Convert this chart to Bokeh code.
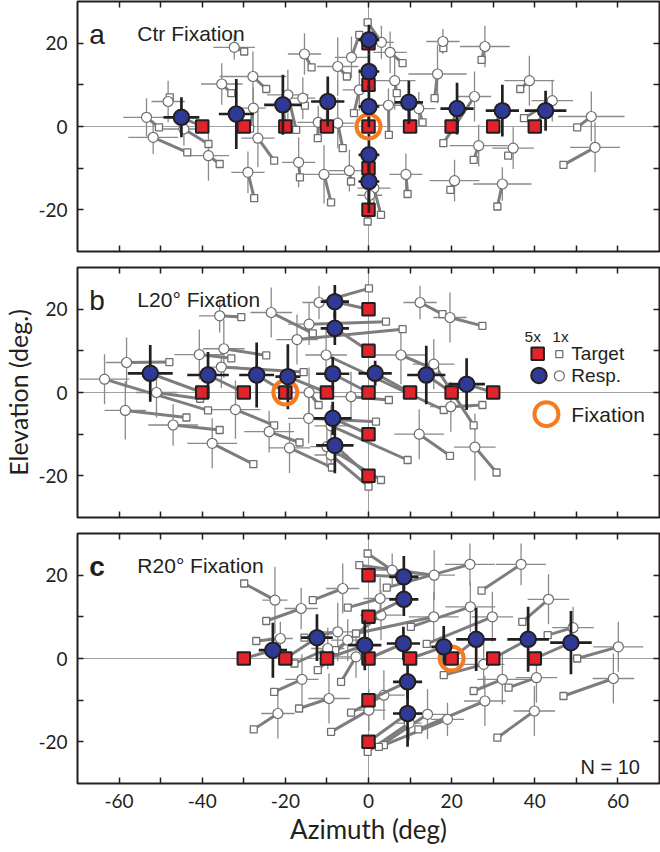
import numpy as np
from bokeh.plotting import figure
from bokeh.layouts import column
from bokeh.models import Range1d, FixedTicker, LinearAxis, Span, Label
from bokeh.embed import file_html
from bokeh.resources import INLINE

# ---------------- data ----------------
X_TICKS = [-60, -50, -40, -30, -20, -10, 0, 10, 20, 30, 40, 50, 60]
X_TICK_LABELS = ["-60", "", "-40", "", "-20", "", "0", "", "20", "", "40", "", "60"]
Y_TICKS = [-20, -10, 0, 10, 20]
Y_TICK_LABELS = ["-20", "", "0", "", "20"]

PANEL_LETTERS = ["a", "b", "c"]
PANEL_TITLES = ["Ctr Fixation", "L20\u00b0 Fixation", "R20\u00b0 Fixation"]
FIX_X = [0, -20, 20]
FIX_Y = [0, 0, 0]
N_SUBJECTS = 10

# panel a (centre fixation) : 5x targets / responses
T5X_a = [-40, -30, -20, -10, 0, 10, 20, 30, 40, 0, 0, 0, 0]
T5Y_a = [0, 0, 0, 0, 0, 0, 0, 0, 0, 20, 10, -10, -20]
R5X_a = [-45.0, -31.8, -20.6, -9.8, 0.1, 9.7, 21.3, 32.2, 42.6, 0.1, 0.1, 0.1, 0.1]
R5Y_a = [2.2, 3.0, 5.2, 6.0, 4.8, 5.8, 4.3, 3.8, 3.8, 20.8, 13.2, -6.8, -13.2]
R5SX_a = [4.3, 4.2, 4.5, 4.0, 2.5, 3.4, 4.0, 4.0, 5.0, 2.5, 2.5, 2.5, 2.5]
R5SY_a = [4.8, 8.4, 7.2, 6.0, 5.0, 5.2, 6.2, 6.2, 4.8, 3.6, 4.0, 5.0, 7.5]
# panel a : 1x targets / responses
T1X_a = [-50.4, -43.6, -47.8, -38.5, -35.8, -33.0, -29.9, -27.5, -24.6, -22.7, -17.4, -16.5, -15.3, -13.7,
         -9.0, -12.2, -5.2, -2.2, 8.2, 6.8, -3.5, -6.2, 4.9, 13.0, -4.2, 3.0, 9.4, 15.9, 18.0, 19.7, 27.2,
         18.0, 25.3, 37.4, 33.6, 36.5, 50.2, 46.9, 31.0, -0.2, -0.2, -28.5]
T1Y_a = [-0.2, -6.2, 7.0, -4.2, -9.0, 8.0, 18.0, -17.2, 9.0, -8.2, -0.8, -12.2, 5.0, 14.2,
         -18.2, -2.8, 12.0, 22.0, 15.2, 8.0, 3.2, -5.2, -2.0, 1.0, -13.2, -21.2, -16.2, 6.8, 18.8, -15.2, 16.0,
         -4.0, -8.0, 2.0, -7.0, 9.0, -0.2, -9.2, -19.2, 25.0, -22.8, -0.5]
R1X_a = [-53.4, -51.8, -48.2, -44.4, -38.5, -35.3, -32.3, -29.0, -27.8, -26.6, -19.4, -16.8, -15.8, -15.4,
         -10.7, -12.1, -7.4, -4.1, 5.2, 6.3, -2.2, -7.4, 4.8, 12.1, -4.6, 1.3, 9.0, 16.6, 17.9, 20.7, 28.0,
         25.5, 26.5, 44.2, 34.8, 38.7, 53.6, 54.5, 32.2, 3.1, 0.3, -27.7]
R1Y_a = [2.2, -2.6, 6.0, -0.6, -7.0, 10.2, 19.0, -11.0, 12.0, -2.8, 7.6, -8.6, 6.8, 17.4,
         -11.5, 1.0, 14.4, 16.6, 17.8, 11.0, 8.8, 0.8, 5.1, 4.3, -10.6, -14.8, -11.5, 12.6, 20.4, -13.0, 19.2,
         7.2, -4.6, 6.2, -5.2, 11.0, 2.4, -5.0, -13.8, 20.2, -16.5, 4.4]
R1SX_a = [5.6, 6, 4, 5, 5, 5, 5, 4, 8, 4, 5, 4, 3, 4,
          5, 5, 5, 4, 4, 5, 4, 4, 4, 4, 5, 4, 4, 7, 4, 6, 6,
          4, 7, 5, 5, 6, 8, 6, 7, 3, 3, 3]
R1SY_a = [4.6, 4, 5, 4, 6, 5, 3, 5, 6, 7, 6, 6, 5, 5,
          7, 4, 7, 5, 5, 7, 5, 6, 4, 4, 5, 5, 5, 7, 3, 5, 5,
          6, 5, 5, 5, 6, 6, 6, 4, 4, 4, 5]

# panel b (left 20 deg fixation)
T5X_b = [-40, -30, -20, -10, 0, 10, 20, 30, 0, 0, 0, 0]
T5Y_b = [0, 0, 0, 0, 0, 0, 0, 0, 20, 10, -10, -20]
R5X_b = [-52.5, -38.6, -26.9, -19.4, -8.6, 1.6, 13.9, 23.6, -8.1, -8.1, -8.6, -8.1]
R5Y_b = [4.6, 4.2, 4.2, 3.8, 4.5, 4.6, 4.2, 2.0, 21.8, 15.4, -6.2, -12.7]
R5SX_b = [5.4, 5.0, 4.2, 3.0, 4.0, 4.0, 4.6, 4.4, 3.4, 3.4, 4.5, 4.5]
R5SY_b = [6.8, 5.5, 7.8, 7.8, 4.0, 3.0, 7.0, 6.2, 4.0, 4.0, 4.0, 6.7]
T1X_b = [-38.6, -47.9, -43.8, -40.5, -35.8, -27.7, -30.6, -33.0, -24.6, -15.6, -13.4, 8.2, -22.7, -16.6,
         -8.8, -12.0, 1.8, 4.2, 0.1, 4.9, 16.0, 25.3, 17.8, 27.4, 27.4, 19.6, 30.8, 9.4, 3.0, 0.0, 18.1]
T1Y_b = [-4.3, 7.3, -6.0, -1.5, -9.0, -17.2, 18.1, 8.2, 8.9, 4.9, 14.2, 15.2, -7.9, -12.0,
         -18.0, -3.0, -7.0, 17.0, 25.0, -1.8, 5.5, -7.9, 18.8, 16.0, -3.0, -15.2, -19.2, -16.2, -21.0, -22.6, -4.2]
R1X_b = [-63.5, -58.2, -58.5, -51.0, -47.0, -37.6, -35.8, -40.7, -34.8, -35.4, -23.4, -17.2, -32.0, -23.9,
         -19.0, -14.3, -14.4, -14.3, -11.9, -4.2, 7.8, 15.7, 12.4, 19.6, 19.8, 12.2, 25.6, -9.0, -10.0, -9.0, -10.2]
R1Y_b = [3.2, 7.2, -4.3, 0.0, -7.8, -12.2, 18.4, 9.1, 10.5, 6.1, 19.2, 12.7, -4.1, -9.4,
         -13.3, 0.0, -6.2, 16.4, 21.6, -1.0, 9.0, 6.8, 21.6, 18.0, -3.4, -10.0, -13.1, -8.0, -13.0, -15.0, 9.0]
R1SX_b = [6, 5, 5, 5, 6, 6, 5, 6, 5, 4, 5, 5, 6, 6,
          5, 5, 5, 5, 4, 5, 6, 5, 4, 4, 5, 6, 5, 4, 4, 4, 5]
R1SY_b = [6, 6, 7, 6, 5, 6, 4, 6, 7, 5, 6, 6, 7, 5,
          6, 6, 6, 5, 4, 6, 7, 6, 4, 6, 6, 6, 8, 5, 5, 4, 6]

# panel c (right 20 deg fixation)
T5X_c = [-30, -20, -10, 0, 10, 20, 30, 40, 0, 0, 0, 0]
T5Y_c = [0, 0, 0, 0, 0, 0, 0, 0, 20, 10, -10, -20]
R5X_c = [-23.0, -12.4, -0.9, 8.4, 18.1, 25.9, 38.4, 48.7, 8.5, 8.5, 9.4, 9.4]
R5Y_c = [2.0, 5.0, 3.2, 3.6, 2.8, 4.6, 4.6, 3.8, 19.6, 14.2, -5.6, -13.2]
R5SX_c = [3.4, 3.8, 4.0, 4.0, 3.0, 4.8, 5.0, 5.0, 3.5, 3.5, 3.5, 3.5]
R5SY_c = [6.6, 5.6, 6.0, 4.0, 5.0, 7.6, 7.8, 7.6, 5.0, 4.0, 4.0, 8.0]
T1X_c = [-29.9, -24.6, -27.0, -22.7, -27.6, -16.7, -13.4, -15.4, -17.8, -12.2, -9.0, -6.6, -4.2, -5.0,
         -0.2, -2.2, 4.4, 27.2, 37.0, 43.1, 50.2, 46.9, 33.7, 25.3, 31.0, 3.7, 2.5, 18.1, 10.2, 14.0,
         -3.0, -8.0, 12.0, -0.2]
T1Y_c = [18.0, 9.0, 4.2, -8.0, -17.0, -12.0, 14.0, 5.0, -1.2, -2.8, -17.6, -5.6, -13.0, 12.2,
         25.2, 22.4, 17.0, 16.3, 8.8, 5.6, 0.0, -9.0, -7.0, -7.8, -19.0, -20.8, -21.2, -4.0, 7.6, 3.5,
         6.0, 2.0, -17.0, -22.4]
R1X_c = [-22.5, -16.2, -21.2, -16.0, -21.8, -9.5, -6.2, -7.4, -9.8, -5.0, 0.1, -3.0, 3.7, 2.8,
         5.7, 15.8, 24.4, 36.7, 43.3, 49.2, 60.1, 58.9, 40.4, 32.2, 39.9, 19.0, 14.2, 27.7, 24.5, 29.8,
         15.7, 3.0, 28.0, 9.8]
R1Y_c = [14.0, 12.0, 4.8, -5.0, -13.2, -9.6, 16.8, 6.4, 2.4, 4.4, -12.4, 0.4, -8.8, 14.4,
         21.2, 20.0, 22.6, 22.6, 14.2, 7.4, 2.8, -4.8, -4.6, -5.0, -12.6, -14.6, -13.4, -1.4, 12.4, 10.0,
         10.0, 10.4, -10.2, -15.5]
R1SX_c = [3, 4, 3, 4, 4, 5, 4, 5, 4, 4, 4, 5, 5, 4,
          4, 5, 6, 6, 5, 5, 6, 5, 5, 6, 5, 4, 5, 5, 6, 5,
          6, 5, 5, 3]
R1SY_c = [8, 5, 4, 6, 6, 6, 6, 7, 5, 5, 5, 5, 6, 5,
          4, 6, 5, 5, 6, 5, 6, 6, 6, 6, 6, 4, 6, 6, 6, 6,
          6, 6, 6, 4]

PANELS = [
    (T5X_a, T5Y_a, R5X_a, R5Y_a, R5SX_a, R5SY_a, T1X_a, T1Y_a, R1X_a, R1Y_a, R1SX_a, R1SY_a),
    (T5X_b, T5Y_b, R5X_b, R5Y_b, R5SX_b, R5SY_b, T1X_b, T1Y_b, R1X_b, R1Y_b, R1SX_b, R1SY_b),
    (T5X_c, T5Y_c, R5X_c, R5Y_c, R5SX_c, R5SY_c, T1X_c, T1Y_c, R1X_c, R1Y_c, R1SX_c, R1SY_c),
]

# ---------------- style ----------------
RED = "#e3232b"
BLUE = "#2e3a96"
DARK = "#231f20"
ORANGE = "#f47b20"
GRAY_LINE = "#7d7d7d"
GRAY_ERR = "#8a8a8a"
GRAY_MARK = "#6f6f6f"
TICK_FONT = "Lato"
TEXT_FONT = "Liberation Sans"

x_ticks_over = {t: s for t, s in zip(X_TICKS, X_TICK_LABELS)}
y_ticks_over = {t: s for t, s in zip(Y_TICKS, Y_TICK_LABELS)}


def style_axis(ax, ticks, overrides, show_labels):
    ax.ticker = FixedTicker(ticks=ticks)
    ax.major_label_overrides = overrides
    ax.axis_line_color = None
    ax.major_tick_in = 6
    ax.major_tick_out = 0
    ax.minor_tick_line_color = None
    ax.major_tick_line_color = DARK
    ax.major_tick_line_width = 1.5
    if show_labels:
        ax.major_label_text_font = TICK_FONT
        ax.major_label_text_font_size = "19px"
        ax.major_label_text_color = DARK
        ax.major_label_standoff = 10
    else:
        ax.major_label_text_font_size = "1px"
        ax.major_label_text_alpha = 0
        ax.major_label_standoff = 0


def make_panel(i, height, top, bottom, show_x, y_title=None):
    p = figure(width=668, height=height, output_backend="svg", toolbar_location=None,
               x_range=Range1d(-70, 70), y_range=Range1d(-30, 30),
               min_border_left=85, min_border_right=1, min_border_top=top, min_border_bottom=bottom,
               x_axis_location=None, y_axis_location=None)
    p.grid.visible = False
    p.outline_line_color = DARK
    p.outline_line_width = 2
    p.background_fill_color = "white"
    p.border_fill_color = "white"

    bx = LinearAxis()
    style_axis(bx, X_TICKS, x_ticks_over, show_x)
    if show_x:
        bx.axis_label = "Azimuth (deg)"
        bx.axis_label_text_font = TICK_FONT
        bx.axis_label_text_font_size = "26px"
        bx.axis_label_text_font_style = "normal"
        bx.axis_label_text_color = DARK
        bx.axis_label_standoff = 2
    p.add_layout(bx, "below")
    tx = LinearAxis()
    style_axis(tx, X_TICKS, x_ticks_over, False)
    p.add_layout(tx, "above")
    ly = LinearAxis()
    style_axis(ly, Y_TICKS, y_ticks_over, True)
    if y_title:
        ly.axis_label = y_title
        ly.axis_label_text_font = TICK_FONT
        ly.axis_label_text_font_size = "25px"
        ly.axis_label_text_font_style = "normal"
        ly.axis_label_text_color = DARK
        ly.axis_label_standoff = 2
    p.add_layout(ly, "left")
    ry = LinearAxis()
    style_axis(ry, Y_TICKS, y_ticks_over, False)
    p.add_layout(ry, "right")

    p.add_layout(Span(location=0, dimension="width", line_color="#a0a0a0", line_width=1, level="underlay"))
    p.add_layout(Span(location=0, dimension="height", line_color="#a0a0a0", line_width=1, level="underlay"))

    t5x, t5y, r5x, r5y, r5sx, r5sy, t1x, t1y, r1x, r1y, r1sx, r1sy = [np.array(a, dtype=float) for a in PANELS[i]]

    # 1x error bars
    p.segment(r1x - r1sx, r1y, r1x + r1sx, r1y, line_color=GRAY_ERR, line_width=1.3)
    p.segment(r1x, r1y - r1sy, r1x, r1y + r1sy, line_color=GRAY_ERR, line_width=1.3)
    # 1x target -> response
    p.segment(t1x, t1y, r1x, r1y, line_color=GRAY_LINE, line_width=3)
    p.scatter(t1x, t1y, marker="square", size=7, fill_color="white", line_color=GRAY_MARK, line_width=1.3)
    p.scatter(r1x, r1y, marker="circle", size=10, fill_color="white", line_color=GRAY_MARK, line_width=1.2)
    # 5x
    p.segment(t5x, t5y, r5x, r5y, line_color=GRAY_LINE, line_width=3)
    p.scatter(t5x, t5y, marker="square", size=12.5, fill_color=RED, line_color=DARK, line_width=2)
    p.segment(r5x - r5sx, r5y, r5x + r5sx, r5y, line_color=DARK, line_width=2.7)
    p.segment(r5x, r5y - r5sy, r5x, r5y + r5sy, line_color=DARK, line_width=2.7)
    p.scatter([FIX_X[i]], [FIX_Y[i]], marker="circle", size=24, fill_color=None,
              line_color=ORANGE, line_width=4)
    p.scatter(r5x, r5y, marker="circle", size=15.5, fill_color=BLUE, line_color=DARK, line_width=2)

    p.add_layout(Label(x=-67.2, y=22.2, text=PANEL_LETTERS[i], text_font=TEXT_FONT,
                       text_font_size="28px", text_color=DARK, text_baseline="alphabetic",
                       text_font_style="bold" if i == 2 else "normal"))
    p.add_layout(Label(x=-55.6, y=22.3, text=PANEL_TITLES[i], text_font=TEXT_FONT,
                       text_font_size="21px", text_color=DARK, text_baseline="alphabetic"))
    return p


fa = make_panel(0, 267, 9, 8, False)
fb = make_panel(1, 266, 8, 8, False, y_title="Elevation (deg.)")
fc = make_panel(2, 327, 8, 69, True)

# legend in panel b
fb.add_layout(Label(x=39.5, y=13.4, text="5x", text_align="center", text_baseline="middle",
                    text_font=TEXT_FONT, text_font_size="15.5px", text_color=DARK))
fb.add_layout(Label(x=46.2, y=13.4, text="1x", text_align="center", text_baseline="middle",
                    text_font=TEXT_FONT, text_font_size="15.5px", text_color=DARK))
fb.scatter([40.7], [9.3], marker="square", size=12.5, fill_color=RED, line_color=DARK, line_width=2)
fb.scatter([45.9], [9.2], marker="square", size=7, fill_color="white", line_color=GRAY_MARK, line_width=1.3)
fb.scatter([41.0], [4.1], marker="circle", size=15.5, fill_color=BLUE, line_color=DARK, line_width=2)
fb.scatter([45.9], [4.0], marker="circle", size=10, fill_color="white", line_color=GRAY_MARK, line_width=1.2)
fb.scatter([42.8], [-5.2], marker="circle", size=24, fill_color=None, line_color=ORANGE, line_width=4)
fb.add_layout(Label(x=48.8, y=9.3, text="Target", text_baseline="middle",
                    text_font=TEXT_FONT, text_font_size="19px", text_color=DARK))
fb.add_layout(Label(x=48.8, y=4.1, text="Resp.", text_baseline="middle",
                    text_font=TEXT_FONT, text_font_size="19px", text_color=DARK))
fb.add_layout(Label(x=48.8, y=-5.2, text="Fixation", text_baseline="middle",
                    text_font=TEXT_FONT, text_font_size="21px", text_color=DARK))

fc.add_layout(Label(x=65.3, y=-26.0, text="N = %d" % N_SUBJECTS, text_align="right",
                    text_baseline="alphabetic", text_font=TEXT_FONT, text_font_size="20px",
                    text_color=DARK))

layout = column(fa, fb, fc, spacing=0,
                styles={"margin-top": "-8px", "margin-left": "-8px",
                        "margin-bottom": "-8px", "margin-right": "-8px"})

open("out.html", "w").write(file_html(layout, INLINE))
